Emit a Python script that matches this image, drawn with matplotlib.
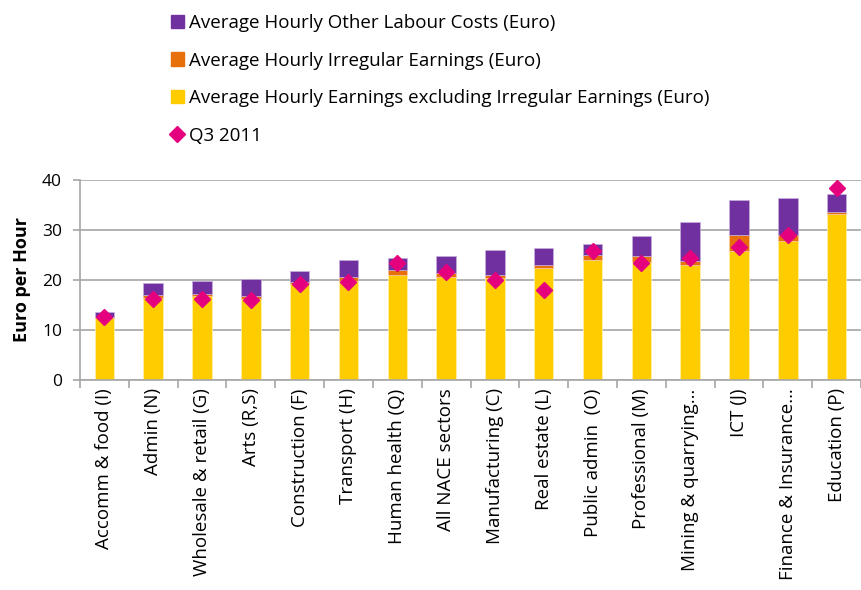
import numpy as np
import matplotlib
matplotlib.use('Agg')
import matplotlib.pyplot as plt
from matplotlib.lines import Line2D
from matplotlib.patches import Patch

plt.rcParams['font.family'] = ['Open Sans', 'DejaVu Sans']

sectors = ['Accomm & food (I)', 'Admin (N)', 'Wholesale & retail (G)', 'Arts (R,S)',
           'Construction (F)', 'Transport (H)', 'Human health (Q)', 'All NACE sectors',
           'Manufacturing (C)', 'Real estate (L)', 'Public admin  (O)', 'Professional (M)',
           'Mining & quarrying…', 'ICT (J)', 'Finance & Insurance…', 'Education (P)']

# stacked parts
earnings_excl = [12.5, 16.5, 16.8, 16.3, 19.3, 19.9, 21.1, 20.7,
                 20.5, 22.5, 24.1, 23.7, 23.1, 25.9, 27.9, 33.3]
irregular = [0.2, 0.6, 0.5, 0.5, 0.4, 0.8, 1.0, 0.8,
             0.6, 0.5, 1.0, 1.2, 0.7, 3.1, 1.1, 0.4]
other_costs = [1.0, 2.3, 2.6, 3.5, 2.2, 3.3, 2.4, 3.4,
               4.9, 3.5, 2.1, 4.0, 7.9, 6.9, 7.5, 3.5]
q3_2011 = [12.7, 16.3, 16.3, 16.1, 19.2, 19.7, 23.5, 21.7,
           20.1, 18.1, 25.9, 23.4, 24.5, 26.7, 29.1, 38.5]

YELLOW = '#FFCC00'
ORANGE = '#E8700A'
PURPLE = '#7030A0'
PINK = '#E5007E'
GREY = '#A6A6A6'


def main():
    fig = plt.figure(figsize=(8.61, 5.90), dpi=100)
    ax = fig.add_axes([80 / 861, 1 - 380 / 590, 1 - 80 / 861, 200 / 590])

    x = np.arange(len(sectors))
    base = np.array(earnings_excl)
    mid = base + np.array(irregular)
    w = 0.4
    ax.bar(x, earnings_excl, w, color=YELLOW, edgecolor='#FFF2B0', linewidth=0.5, zorder=2)
    ax.bar(x, irregular, w, bottom=base, color=ORANGE, edgecolor='#F8C8A0', linewidth=0.5, zorder=2)
    ax.bar(x, other_costs, w, bottom=mid, color=PURPLE, edgecolor='#C8B0DC', linewidth=0.5, zorder=2)
    ax.plot(x, q3_2011, linestyle='none', marker='D', markersize=8.5, color=PINK, zorder=3)

    ax.set_xlim(-0.5, len(sectors) - 0.5)
    ax.set_ylim(0, 40)
    ax.set_yticks([0, 10, 20, 30, 40])
    ax.yaxis.grid(True, color=GREY, linewidth=1.2)
    ax.set_axisbelow(True)

    for s in ['top', 'right']:
        ax.spines[s].set_visible(False)
    for s in ['left', 'bottom']:
        ax.spines[s].set_color(GREY)
        ax.spines[s].set_linewidth(1.2)

    ax.set_xticks(x)
    ax.set_xticklabels(sectors, rotation=90, fontsize=13.5)
    ax.set_xticks(np.arange(-0.5, len(sectors)), minor=True)
    ax.tick_params(axis='x', which='major', length=0, pad=6)
    ax.tick_params(axis='x', which='minor', length=6, color=GREY, width=1.2)
    ax.tick_params(axis='y', length=5, color=GREY, width=1.2, labelsize=12.5, pad=8)
    ax.set_ylabel('Euro per Hour', fontsize=13, fontweight='bold', labelpad=8)

    handles = [Patch(color=PURPLE), Patch(color=ORANGE), Patch(color=YELLOW),
               Line2D([], [], linestyle='none', marker='D', markersize=8, color=PINK)]
    labels = ['Average Hourly Other Labour Costs (Euro)',
              'Average Hourly Irregular Earnings (Euro)',
              'Average Hourly Earnings excluding Irregular Earnings (Euro)',
              'Q3 2011']
    fig.legend(handles, labels, loc='upper left', bbox_to_anchor=(154 / 861, 1 + 3 / 590),
               frameon=False, fontsize=13.5, labelspacing=1.05, handlelength=0.7,
               handleheight=0.7, handletextpad=0.25)

    fig.savefig('out.png', dpi=100)


if __name__ == '__main__':
    main()
